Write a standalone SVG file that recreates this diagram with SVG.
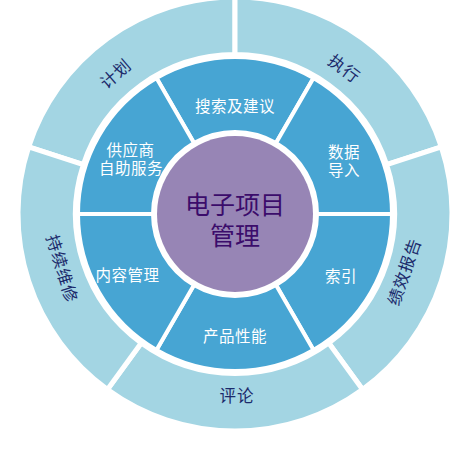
<svg xmlns="http://www.w3.org/2000/svg" width="470" height="455" viewBox="0 0 470 455">
<style>
.outer{fill:#a3d5e3;stroke:#fff;stroke-width:5}
.inner{fill:#47a5d3;stroke:#fff;stroke-width:4}
.ot{font-family:"Noto Sans CJK SC","Noto Sans",sans-serif;font-size:16.5px;fill:#1b2a6b;text-anchor:middle;dominant-baseline:central;letter-spacing:1px}
.it{font-family:"Noto Sans CJK SC","Noto Sans",sans-serif;font-size:15.5px;fill:#fff;text-anchor:middle;dominant-baseline:central;letter-spacing:0.5px}
.ct{font-family:"Noto Sans CJK SC","Noto Sans",sans-serif;font-size:25px;fill:#3b0c6b;text-anchor:middle;dominant-baseline:central}
</style>
<rect width="470" height="455" fill="#fff"/>
<g id="outer-ring">
<g id="plan"><path class="outer" d="M 28.62 146.94 A 217 217 0 0 1 235 -3 L 235 54.5 A 159.5 159.5 0 0 0 83.31 164.71 Z"/><text class="ot" transform="translate(115,73) rotate(-41)">计划</text></g>
<g id="execute"><path class="outer" d="M 235 -3 A 217 217 0 0 1 441.38 146.94 L 386.69 164.71 A 159.5 159.5 0 0 0 235 54.5 Z"/><text class="ot" transform="translate(345,68) rotate(37)">执行</text></g>
<g id="report"><path class="outer" d="M 441.38 146.94 A 217 217 0 0 1 362.55 389.56 L 328.75 343.04 A 159.5 159.5 0 0 0 386.69 164.71 Z"/><text class="ot" transform="translate(403.5,271.5) rotate(-71)">绩效报告</text></g>
<g id="review"><path class="outer" d="M 362.55 389.56 A 217 217 0 0 1 107.45 389.56 L 141.25 343.04 A 159.5 159.5 0 0 0 328.75 343.04 Z"/><text class="ot" transform="translate(237,395)">评论</text></g>
<g id="maintain"><path class="outer" d="M 107.45 389.56 A 217 217 0 0 1 28.62 146.94 L 83.31 164.71 A 159.5 159.5 0 0 0 141.25 343.04 Z"/><text class="ot" transform="translate(63,268.5) rotate(73)">持续维修</text></g>
</g>
<g id="inner-ring">
<g id="search"><path class="inner" d="M 156.5 78.03 A 157 157 0 0 1 313.5 78.03 L 276 142.99 A 82 82 0 0 0 194 142.99 Z"/><text class="it" x="235" y="104.5">搜索及建议</text></g>
<g id="import"><path class="inner" d="M 313.5 78.03 A 157 157 0 0 1 392 214 L 317 214 A 82 82 0 0 0 276 142.99 Z"/><text class="it"><tspan x="344" y="150.5">数据</tspan><tspan x="344" y="169">导入</tspan></text></g>
<g id="index"><path class="inner" d="M 392 214 A 157 157 0 0 1 313.5 349.97 L 276 285.01 A 82 82 0 0 0 317 214 Z"/><text class="it" x="341" y="275">索引</text></g>
<g id="performance"><path class="inner" d="M 313.5 349.97 A 157 157 0 0 1 156.5 349.97 L 194 285.01 A 82 82 0 0 0 276 285.01 Z"/><text class="it" x="235" y="334.5">产品性能</text></g>
<g id="content"><path class="inner" d="M 156.5 349.97 A 157 157 0 0 1 78 214 L 153 214 A 82 82 0 0 0 194 285.01 Z"/><text class="it" x="127.5" y="273.5">内容管理</text></g>
<g id="supplier"><path class="inner" d="M 78 214 A 157 157 0 0 1 156.5 78.03 L 194 142.99 A 82 82 0 0 0 153 214 Z"/><text class="it"><tspan x="130.5" y="148.5">供应商</tspan><tspan x="131" y="166.5">自助服务</tspan></text></g>
</g>
<g id="center">
<circle cx="235" cy="214" r="78" fill="#9785b5"/>
<text class="ct"><tspan x="235" y="202.5">电子项目</tspan><tspan x="235" y="233.5">管理</tspan></text>
</g>
<g id="connectors"/>
</svg>
